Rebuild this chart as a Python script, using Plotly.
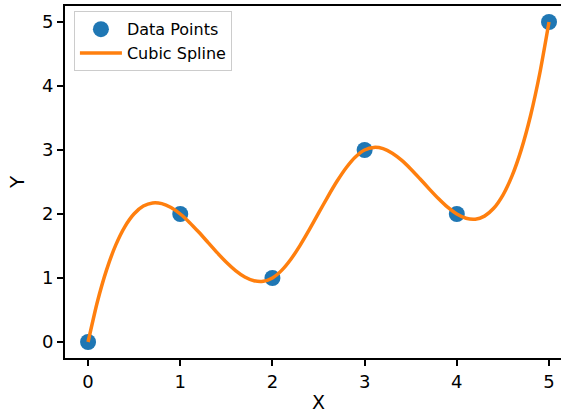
import plotly.graph_objects as go

# Data points
x_points = [0, 1, 2, 3, 4, 5]
y_points = [0, 2, 1, 3, 2, 5]

# Cubic spline curve values (x step 0.1)
x_curve = [i / 10 for i in range(51)]
y_curve = [
    0.000, 0.622, 1.123, 1.514, 1.804, 2.004, 2.124, 2.173, 2.162, 2.101,
    2.000, 1.869, 1.718, 1.557, 1.396, 1.246, 1.116, 1.016, 0.957, 0.948,
    1.000, 1.119, 1.293, 1.510, 1.755, 2.013, 2.269, 2.511, 2.723, 2.891,
    3.000, 3.041, 3.021, 2.950, 2.841, 2.704, 2.551, 2.393, 2.241, 2.106,
    2.000, 1.934, 1.919, 1.967, 2.089, 2.296, 2.599, 3.010, 3.539, 4.199,
    5.000,
]

x_ticks = [0, 1, 2, 3, 4, 5]
y_ticks = [0, 1, 2, 3, 4, 5]

FONT = "DejaVu Sans"

fig = go.Figure()
fig.add_trace(go.Scatter(
    x=x_points, y=y_points, mode="markers", name="Data Points", legendgroup="a",
    marker=dict(color="#1f77b4", size=16, line=dict(width=0)),
))
fig.add_trace(go.Scatter(
    x=x_curve, y=y_curve, mode="lines", name="Cubic Spline", legendgroup="b",
    line=dict(color="#ff7f0e", width=3.5, shape="spline", smoothing=0.6),
))

axis_common = dict(
    showgrid=False, zeroline=False, showline=True, linecolor="black", linewidth=2,
    ticks="outside", ticklen=6, tickwidth=2, tickcolor="black",
    tickfont=dict(family=FONT, size=18, color="black"),
)

fig.update_layout(
    width=561, height=414,
    margin=dict(l=65, r=0, t=6, b=56),
    paper_bgcolor="white", plot_bgcolor="white",
    font=dict(family=FONT, color="black"),
    xaxis=dict(range=[-0.25, 5.13], tickvals=x_ticks, mirror=True, **axis_common),
    yaxis=dict(
        range=[-0.25, 5.25], tickvals=y_ticks,
        title=dict(text="Y", font=dict(family=FONT, size=20, color="black"), standoff=12),
        **axis_common,
    ),
    annotations=[dict(
        text="X", xref="paper", yref="paper", x=0.512, y=0, yshift=-44,
        xanchor="center", yanchor="middle", showarrow=False,
        font=dict(family=FONT, size=19, color="black"),
    )],
    legend=dict(
        x=0.018, y=0.985, xanchor="left", yanchor="top",
        bgcolor="rgba(255,255,255,0.8)", bordercolor="#cccccc", borderwidth=1,
        font=dict(family=FONT, size=16, color="black"),
        itemwidth=42, tracegroupgap=0,
    ),
    showlegend=True,
)

fig.write_html("out.html")
